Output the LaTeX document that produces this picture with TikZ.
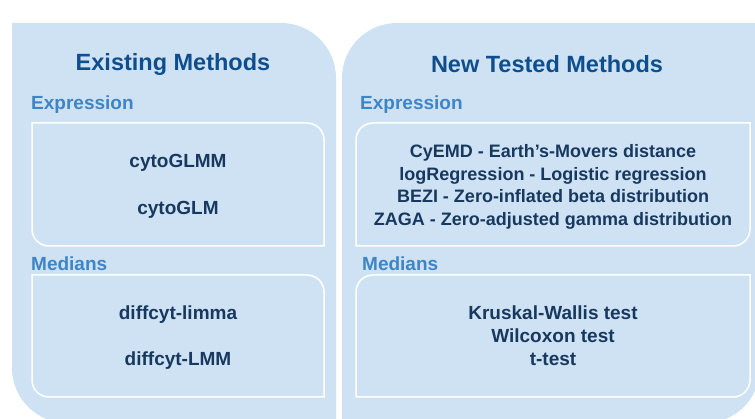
\documentclass[tikz,border=0pt]{standalone}
\usepackage{fontspec}
\setmainfont{Liberation Sans}
\definecolor{panelc}{HTML}{CFE2F3}
\definecolor{titlec}{HTML}{0F4E8E}
\definecolor{subc}{HTML}{3D85C6}
\definecolor{textc}{HTML}{17385F}
\tikzset{
  panel/.style={fill=panelc},
  inner/.style={fill=panelc, draw=white, line width=1.5pt},
  ttl/.style={anchor=base, text=titlec, font=\fontsize{23.5}{28}\selectfont\bfseries, inner sep=0},
  sub/.style={anchor=base west, text=subc, font=\fontsize{19}{23}\selectfont\bfseries, inner sep=0},
  item/.style={anchor=base, text=textc, font=\fontsize{19}{23}\selectfont\bfseries, inner sep=0},
  itemsm/.style={item, font=\fontsize{18}{22}\selectfont\bfseries},
}
\begin{document}
\begin{tikzpicture}[x=1pt,y=1pt]
\useasboundingbox (0,0) rectangle (755,419);
\begin{scope}
\clip (0,0) rectangle (755,419);
% panels
\fill[panel] (12,396) -- (281,396) arc[start angle=90,end angle=0,radius=55] -- (336,-4) -- (67,-4) arc[start angle=270,end angle=180,radius=55] -- cycle;
\fill[panel] (342,341) arc[start angle=180,end angle=90,radius=55] -- (760,396) -- (760,51) arc[start angle=0,end angle=-90,radius=55] -- (342,-4) -- cycle;
\end{scope}
% inner boxes
\draw[inner] (32,296) -- (307,296) arc[start angle=90,end angle=0,radius=17] -- (324,173) -- (49,173) arc[start angle=270,end angle=180,radius=17] -- cycle;
\draw[inner] (32,144) -- (307,144) arc[start angle=90,end angle=0,radius=17] -- (324,22) -- (49,22) arc[start angle=270,end angle=180,radius=17] -- cycle;
\draw[inner] (356,279) arc[start angle=180,end angle=90,radius=17] -- (750,296) -- (750,190) arc[start angle=0,end angle=-90,radius=17] -- (356,173) -- cycle;
\draw[inner] (356,127) arc[start angle=180,end angle=90,radius=17] -- (750,144) -- (750,39) arc[start angle=0,end angle=-90,radius=17] -- (356,22) -- cycle;
% titles
\node[ttl] (t1) at (173,348) {Existing Methods};
\node[ttl] (t2) at (547,346) {New Tested Methods};
\node[sub] (e1) at (31,309) {Expression};
\node[sub] (e2) at (360,309) {Expression};
\node[sub] (m1) at (31,148) {Medians};
\node[sub] (m2) at (362,148) {Medians};
% left items
\node[item] (a1) at (178,251) {cytoGLMM};
\node[item] (a2) at (178,204) {cytoGLM};
\node[item] (a3) at (178,99) {diffcyt-limma};
\node[item] (a4) at (178,53) {diffcyt-LMM};
% right items
\node[itemsm] (b1) at (553,261) {CyEMD - Earth’s-Movers distance};
\node[itemsm] (b2) at (553,238) {logRegression - Logistic regression};
\node[itemsm] (b3) at (553,216) {BEZI - Zero-inflated beta distribution};
\node[itemsm] (b4) at (553,193) {ZAGA - Zero-adjusted gamma distribution};
\node[item] (c1) at (553,99) {Kruskal-Wallis test};
\node[item] (c2) at (553,76) {Wilcoxon test};
\node[item] (c3) at (553,53) {t-test};
\end{tikzpicture}
\end{document}
